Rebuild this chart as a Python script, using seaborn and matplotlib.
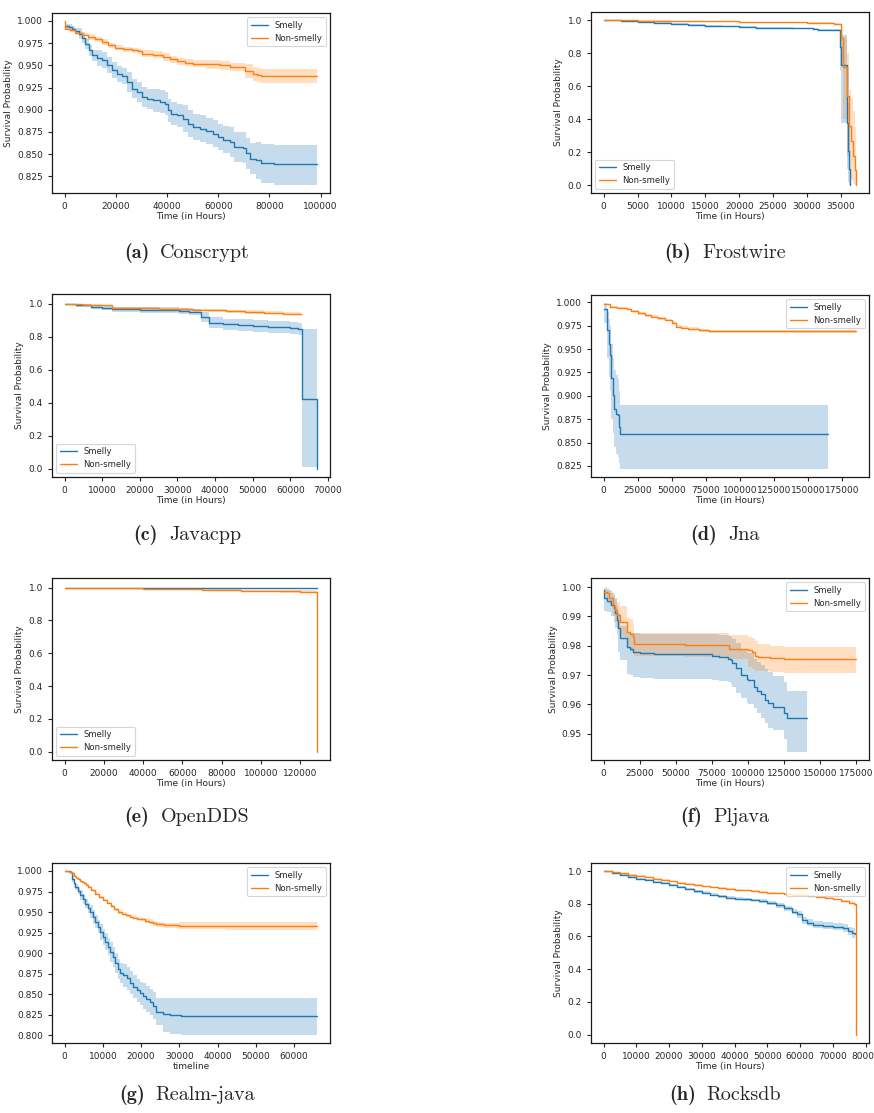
import numpy as np
import pandas as pd
import seaborn as sns
import matplotlib.pyplot as plt
from matplotlib.ticker import MultipleLocator
from matplotlib.offsetbox import TextArea, HPacker, AnchoredOffsetbox

# ---- (a) Conscrypt ----
a_sm_t = [0, 1550, 2850, 4150, 5440, 6740, 8030, 9330, 10600, 12600, 14500, 16500, 18400, 20300, 22300,
          24200, 26200, 28100, 30100, 32000, 34600, 37200, 39100, 40400, 41700, 43700, 46200, 48200, 50100,
          52700, 55300, 57900, 59800, 61800, 64400, 66300, 69600, 70900, 72200, 74700, 76700, 81900, 98700]
a_sm_s = [0.994, 0.9933, 0.9914, 0.9888, 0.9858, 0.9813, 0.9745, 0.967, 0.9614, 0.9588, 0.9558, 0.9501,
          0.9445, 0.9408, 0.9378, 0.9314, 0.9239, 0.9201, 0.9145, 0.9123, 0.9108, 0.9089, 0.907, 0.8995,
          0.8958, 0.8939, 0.8901, 0.8845, 0.8808, 0.8789, 0.8763, 0.8733, 0.8695, 0.8665, 0.8639, 0.8583,
          0.8575, 0.8508, 0.8451, 0.8433, 0.8406, 0.8395, 0.8395]
a_sm_lo = [0.991, 0.9903, 0.9884, 0.9858, 0.9798, 0.9753, 0.9685, 0.961, 0.9554, 0.9498, 0.9468, 0.9411,
           0.9355, 0.9318, 0.9288, 0.9204, 0.9129, 0.9091, 0.9035, 0.9013, 0.8978, 0.8959, 0.894, 0.8865,
           0.8828, 0.8809, 0.8751, 0.8695, 0.8658, 0.8639, 0.8613, 0.8583, 0.8545, 0.8515, 0.8469, 0.8413,
           0.8405, 0.8338, 0.8281, 0.822, 0.818, 0.815, 0.815]
a_sm_hi = [0.997, 0.9963, 0.9944, 0.9918, 0.9918, 0.9873, 0.9805, 0.973, 0.9674, 0.9678, 0.9648, 0.9591,
           0.9535, 0.9498, 0.9468, 0.9424, 0.9349, 0.9311, 0.9255, 0.9233, 0.9238, 0.9219, 0.92, 0.9125,
           0.9088, 0.9069, 0.9051, 0.8995, 0.8958, 0.8939, 0.8913, 0.8883, 0.8845, 0.8815, 0.8809, 0.8753,
           0.8745, 0.8678, 0.8621, 0.864, 0.861, 0.86, 0.86]
a_ns_t = [0, 200, 2200, 4100, 6700, 9300, 11900, 14500, 17100, 19700, 22900, 26200, 28800, 30100, 34600,
          38500, 41100, 43700, 46900, 50100, 55300, 60500, 64400, 70500, 73400, 75000, 76700, 98700]
a_ns_s = [1.0, 0.9914, 0.9895, 0.9869, 0.9846, 0.982, 0.9794, 0.9764, 0.9726, 0.970, 0.9681, 0.967, 0.9659,
          0.9632, 0.9621, 0.9595, 0.9569, 0.9546, 0.9531, 0.952, 0.9512, 0.9501, 0.9482, 0.9437, 0.9407,
          0.9389, 0.9381, 0.9381]
a_ns_lo = [1.0, 0.9894, 0.9875, 0.9849, 0.9826, 0.979, 0.9764, 0.9734, 0.9696, 0.967, 0.9651, 0.964, 0.9629,
           0.9592, 0.9581, 0.9555, 0.9529, 0.9506, 0.9491, 0.948, 0.9462, 0.9451, 0.9432, 0.9357, 0.9327,
           0.9309, 0.9301, 0.9301]
a_ns_hi = [1.0, 0.9934, 0.9915, 0.9889, 0.9866, 0.985, 0.9824, 0.9794, 0.9756, 0.973, 0.9711, 0.970, 0.9689,
           0.9672, 0.9661, 0.9635, 0.9609, 0.9586, 0.9571, 0.956, 0.9562, 0.9551, 0.9532, 0.9517, 0.9487,
           0.9469, 0.9461, 0.9461]

# ---- (b) Frostwire ----
b_sm_t = [0, 2500, 5000, 7500, 10000, 12500, 15000, 17500, 20000, 22500, 25000, 28000, 30900, 31600,
          34840, 35080, 35920, 36060, 36210, 36410]
b_sm_s = [1.0, 0.994, 0.988, 0.983, 0.978, 0.973, 0.968, 0.963, 0.959, 0.956, 0.953, 0.950, 0.947, 0.943,
          0.838, 0.73, 0.375, 0.21, 0.10, 0.0]
b_sm_lo = [1.0, 0.990, 0.983, 0.978, 0.973, 0.968, 0.963, 0.958, 0.953, 0.950, 0.947, 0.944, 0.941, 0.937,
           0.70, 0.38, 0.10, 0.02, 0.0, 0.0]
b_sm_hi = [1.0, 0.998, 0.992, 0.988, 0.983, 0.978, 0.973, 0.968, 0.965, 0.962, 0.959, 0.956, 0.953, 0.949,
           0.92, 0.91, 0.70, 0.50, 0.35, 0.0]
b_ns_t = [0, 5000, 10000, 15000, 20000, 25000, 30000, 34000, 34985, 35330, 35920, 36160, 36460, 36800,
          37140, 37290]
b_ns_s = [1.0, 0.997, 0.995, 0.993, 0.99, 0.988, 0.985, 0.98, 0.89, 0.714, 0.538, 0.36, 0.27, 0.18, 0.09, 0.0]
b_ns_lo = [1.0, 0.995, 0.993, 0.991, 0.988, 0.985, 0.982, 0.977, 0.75, 0.40, 0.17, 0.07, 0.03, 0.01, 0.0, 0.0]
b_ns_hi = [1.0, 0.999, 0.997, 0.995, 0.992, 0.991, 0.988, 0.983, 0.95, 0.90, 0.80, 0.58, 0.53, 0.45, 0.35, 0.0]

# ---- (c) Javacpp ----
c_sm_t = [0, 3000, 7000, 10000, 12500, 20000, 30500, 33000, 36200, 38500, 42000, 46000, 50000, 54000,
          60000, 62000, 63100, 67200]
c_sm_s = [1.0, 0.99, 0.98, 0.975, 0.966, 0.962, 0.957, 0.95, 0.921, 0.886, 0.876, 0.871, 0.866, 0.857,
          0.852, 0.846, 0.423, 0.0]
c_sm_lo = [1.0, 0.978, 0.966, 0.96, 0.95, 0.945, 0.94, 0.93, 0.89, 0.85, 0.84, 0.835, 0.83, 0.82, 0.815,
           0.81, 0.01, 0.0]
c_sm_hi = [1.0, 0.998, 0.992, 0.988, 0.98, 0.978, 0.972, 0.968, 0.95, 0.92, 0.91, 0.905, 0.9, 0.893, 0.888,
           0.882, 0.845, 0.0]
c_ns_t = [0, 5000, 10000, 12500, 20000, 25000, 30000, 34000, 38000, 43000, 48000, 53000, 58000, 62900]
c_ns_s = [1.0, 0.995, 0.99, 0.976, 0.972, 0.968, 0.965, 0.962, 0.96, 0.955, 0.95, 0.945, 0.94, 0.935]
c_ns_lo = [1.0, 0.991, 0.985, 0.97, 0.966, 0.962, 0.958, 0.955, 0.952, 0.946, 0.94, 0.935, 0.93, 0.925]
c_ns_hi = [1.0, 0.999, 0.995, 0.982, 0.978, 0.975, 0.972, 0.970, 0.968, 0.964, 0.96, 0.955, 0.95, 0.945]

# ---- (d) Jna ----
d_sm_t = [0, 2440, 3650, 4870, 5600, 6580, 7310, 9015, 10230, 10960, 12180, 164500]
d_sm_s = [0.9925, 0.9704, 0.955, 0.9436, 0.9186, 0.9007, 0.886, 0.881, 0.879, 0.867, 0.8596, 0.8596]
d_sm_lo = [0.9775, 0.94, 0.92, 0.905, 0.875, 0.86, 0.845, 0.838, 0.835, 0.828, 0.8214, 0.8214]
d_sm_hi = [0.9995, 0.99, 0.982, 0.975, 0.955, 0.94, 0.928, 0.922, 0.918, 0.905, 0.89, 0.89]
d_ns_t = [0, 5000, 10000, 17000, 20000, 25000, 30000, 35000, 40000, 45000, 50000, 53000, 57000, 62000,
          70000, 77000, 185200]
d_ns_s = [0.9979, 0.9954, 0.9936, 0.9925, 0.9911, 0.9882, 0.9861, 0.9846, 0.9829, 0.9811, 0.9782, 0.9739,
          0.9729, 0.9718, 0.9704, 0.9693, 0.9693]
d_ns_lo = [0.9969, 0.9944, 0.9926, 0.9914, 0.9899, 0.987, 0.9848, 0.9832, 0.9815, 0.9796, 0.9767, 0.9723,
           0.9713, 0.9702, 0.9688, 0.9677, 0.9677]
d_ns_hi = [0.9987, 0.9963, 0.9946, 0.9936, 0.9922, 0.9894, 0.9874, 0.986, 0.9843, 0.9826, 0.9797, 0.9754,
           0.9744, 0.9733, 0.972, 0.9709, 0.9709]

# ---- (e) OpenDDS ----
e_sm_t = [0, 30000, 60000, 90000, 128800]
e_sm_s = [1.0, 0.999, 0.998, 0.997, 0.996]
e_sm_lo = [1.0, 0.997, 0.995, 0.993, 0.992]
e_sm_hi = [1.0, 1.0, 1.0, 1.0, 1.0]
e_ns_t = [0, 10000, 20000, 30000, 40000, 50000, 60000, 70000, 80000, 90000, 100000, 110000, 120000, 128400]
e_ns_s = [1.0, 0.9985, 0.997, 0.9955, 0.994, 0.9915, 0.989, 0.9865, 0.984, 0.9815, 0.979, 0.977, 0.975, 0.0]
e_ns_lo = [1.0, 0.996, 0.994, 0.992, 0.990, 0.987, 0.984, 0.981, 0.978, 0.975, 0.972, 0.970, 0.967, 0.0]
e_ns_hi = [1.0, 1.0, 0.999, 0.998, 0.997, 0.995, 0.993, 0.991, 0.989, 0.987, 0.985, 0.984, 0.983, 0.0]

# ---- (f) Pljava ----
f_sm_t = [0, 500, 2300, 5300, 7000, 8000, 9500, 10000, 11000, 15900, 18000, 20000, 25000, 35000, 75000,
          80000, 86000, 88000, 89000, 92000, 95000, 99000, 100000, 104000, 106000, 109000, 112000, 114000,
          117000, 125000, 127000, 141000]
f_sm_s = [0.9991, 0.9962, 0.9951, 0.994, 0.993, 0.9911, 0.9888, 0.986, 0.9826, 0.9795, 0.979, 0.978,
          0.9775, 0.977, 0.9765, 0.9761, 0.9755, 0.975, 0.974, 0.9723, 0.970, 0.9686, 0.9683, 0.966, 0.9647,
          0.9636, 0.9615, 0.9604, 0.959, 0.957, 0.9552, 0.9552]
f_sm_lo = [0.9925, 0.992, 0.9915, 0.99, 0.988, 0.986, 0.984, 0.978, 0.975, 0.9705, 0.970, 0.9693, 0.969,
           0.9686, 0.9683, 0.968, 0.9675, 0.967, 0.966, 0.964, 0.962, 0.9605, 0.960, 0.9587, 0.957, 0.9555,
           0.9535, 0.952, 0.9513, 0.948, 0.9436, 0.9436]
f_sm_hi = [1.0, 0.9995, 0.999, 0.998, 0.9975, 0.996, 0.994, 0.991, 0.9866, 0.9845, 0.9845, 0.9845, 0.984,
           0.984, 0.984, 0.9838, 0.9832, 0.983, 0.9822, 0.981, 0.979, 0.978, 0.9775, 0.9755, 0.9745, 0.9735,
           0.972, 0.971, 0.9695, 0.9675, 0.9645, 0.9645]
f_ns_t = [0, 2000, 4000, 6500, 8000, 9500, 11000, 15900, 18000, 20000, 21000, 56000, 87000, 100000, 103000,
          105000, 107000, 115000, 125000, 175000]
f_ns_s = [0.9982, 0.998, 0.9962, 0.9934, 0.9923, 0.9905, 0.988, 0.9848, 0.984, 0.983, 0.9805, 0.9802,
          0.979, 0.9785, 0.9777, 0.9765, 0.9761, 0.9758, 0.9755, 0.9755]
f_ns_lo = [0.9965, 0.996, 0.994, 0.990, 0.988, 0.986, 0.983, 0.979, 0.978, 0.977, 0.9765, 0.9763, 0.9755,
           0.9729, 0.9722, 0.9715, 0.9712, 0.971, 0.9708, 0.9708]
f_ns_hi = [1.0, 0.9998, 0.9985, 0.997, 0.9963, 0.995, 0.9935, 0.9895, 0.989, 0.9875, 0.9845, 0.9842,
           0.9835, 0.983, 0.9825, 0.9815, 0.9805, 0.98, 0.9795, 0.9795]

# ---- (g) Realm-java ----
g_sm_t = [0, 1500, 1900, 2350, 2800, 3450, 4100, 4750, 5400, 6050, 6700, 7350, 8000, 8650, 9300, 9950,
          10600, 11250, 11900, 12550, 13200, 13850, 14500, 15350, 16200, 17100, 18000, 18850, 19700, 20550,
          21400, 22300, 23200, 24000, 25800, 27500, 30500, 66100]
g_sm_s = [1.0, 0.9985, 0.9907, 0.985, 0.9806, 0.9755, 0.9705, 0.9655, 0.9604, 0.9555, 0.9503, 0.944,
          0.9382, 0.932, 0.926, 0.920, 0.914, 0.908, 0.9019, 0.895, 0.8877, 0.881, 0.8756, 0.873, 0.8695,
          0.864, 0.8594, 0.855, 0.8513, 0.848, 0.844, 0.841, 0.8364, 0.8291, 0.8263, 0.825, 0.8237, 0.8237]
g_sm_lo = [1.0, 0.9965, 0.9867, 0.981, 0.9766, 0.9715, 0.9645, 0.9595, 0.9544, 0.9495, 0.9423, 0.936,
           0.9302, 0.924, 0.916, 0.910, 0.904, 0.898, 0.8899, 0.883, 0.8757, 0.869, 0.8636, 0.859, 0.8555,
           0.850, 0.8454, 0.841, 0.8373, 0.832, 0.828, 0.825, 0.8204, 0.8131, 0.804, 0.802, 0.801, 0.801]
g_sm_hi = [1.0, 1.0, 0.9947, 0.989, 0.9846, 0.9795, 0.9765, 0.9715, 0.9664, 0.9615, 0.9583, 0.952, 0.9462,
           0.940, 0.936, 0.930, 0.924, 0.918, 0.9139, 0.907, 0.8997, 0.893, 0.8876, 0.887, 0.8835, 0.878,
           0.8734, 0.869, 0.8653, 0.864, 0.860, 0.857, 0.8524, 0.8451, 0.8455, 0.8455, 0.8455, 0.8455]
g_ns_t = [0, 1200, 2000, 2500, 3000, 3500, 4000, 4500, 5000, 5500, 6000, 7000, 8000, 9000, 10000, 11000,
          12000, 13000, 14000, 15000, 16000, 17000, 18000, 19000, 20000, 21000, 22000, 23000, 24000, 26000,
          30000, 42000, 66100]
g_ns_s = [1.0, 0.999, 0.997, 0.994, 0.992, 0.990, 0.988, 0.9865, 0.985, 0.983, 0.981, 0.977, 0.9725, 0.968,
          0.9645, 0.961, 0.957, 0.9535, 0.950, 0.948, 0.946, 0.9445, 0.943, 0.942, 0.941, 0.9395, 0.938,
          0.9365, 0.935, 0.9342, 0.9334, 0.933, 0.933]
g_ns_lo = [1.0, 0.998, 0.996, 0.993, 0.991, 0.989, 0.987, 0.9855, 0.984, 0.982, 0.980, 0.9755, 0.971,
           0.9665, 0.963, 0.9595, 0.9555, 0.9515, 0.948, 0.946, 0.944, 0.9425, 0.941, 0.940, 0.939, 0.9365,
           0.935, 0.9335, 0.932, 0.9312, 0.9289, 0.9285, 0.9285]
g_ns_hi = [1.0, 1.0, 0.998, 0.995, 0.993, 0.991, 0.989, 0.9875, 0.986, 0.984, 0.982, 0.9785, 0.974, 0.9695,
           0.966, 0.9625, 0.9585, 0.9555, 0.952, 0.950, 0.948, 0.9465, 0.945, 0.944, 0.943, 0.9425, 0.941,
           0.9395, 0.938, 0.9372, 0.9379, 0.9375, 0.9375]

# ---- (h) Rocksdb ----
h_sm_t = [0, 2500, 5000, 7500, 10000, 12500, 15000, 17500, 20000, 22500, 25000, 27500, 30000, 32500,
          35000, 37500, 40000, 42500, 45000, 47500, 50000, 52500, 55000, 57500, 59000, 60500, 62000, 64000,
          67000, 70000, 73000, 74500, 76000, 76700]
h_sm_s = [1.0, 0.988, 0.976, 0.964, 0.953, 0.944, 0.935, 0.924, 0.913, 0.901, 0.889, 0.877, 0.866, 0.855,
          0.845, 0.838, 0.832, 0.827, 0.823, 0.817, 0.805, 0.790, 0.771, 0.752, 0.735, 0.700, 0.683, 0.672,
          0.666, 0.659, 0.652, 0.635, 0.622, 0.615]
h_sm_lo = [1.0, 0.982, 0.970, 0.958, 0.947, 0.938, 0.929, 0.918, 0.907, 0.895, 0.883, 0.868, 0.857, 0.846,
           0.836, 0.829, 0.823, 0.818, 0.814, 0.804, 0.792, 0.777, 0.758, 0.739, 0.713, 0.678, 0.661, 0.650,
           0.644, 0.637, 0.628, 0.607, 0.590, 0.565]
h_sm_hi = [1.0, 0.994, 0.982, 0.970, 0.959, 0.950, 0.941, 0.930, 0.919, 0.907, 0.895, 0.886, 0.875, 0.864,
           0.854, 0.847, 0.841, 0.836, 0.832, 0.830, 0.818, 0.803, 0.784, 0.765, 0.757, 0.722, 0.705, 0.694,
           0.688, 0.681, 0.674, 0.657, 0.650, 0.660]
h_ns_t = [0, 2500, 5000, 7500, 10000, 12500, 15000, 17500, 20000, 22500, 25000, 27500, 30000, 32500,
          35000, 37500, 40000, 42500, 45000, 47500, 50000, 52500, 55000, 57500, 60000, 62500, 65000, 67500,
          70000, 72500, 75000, 76500, 77200]
h_ns_s = [1.0, 0.993, 0.985, 0.977, 0.970, 0.961, 0.953, 0.945, 0.937, 0.929, 0.921, 0.914, 0.907, 0.901,
          0.896, 0.891, 0.886, 0.881, 0.877, 0.872, 0.868, 0.864, 0.860, 0.856, 0.852, 0.847, 0.841, 0.834,
          0.826, 0.817, 0.806, 0.797, 0.0]
h_ns_lo = [1.0, 0.990, 0.981, 0.973, 0.966, 0.957, 0.949, 0.941, 0.933, 0.925, 0.917, 0.910, 0.903, 0.897,
           0.892, 0.887, 0.882, 0.877, 0.873, 0.868, 0.864, 0.860, 0.856, 0.851, 0.847, 0.842, 0.835, 0.828,
           0.820, 0.810, 0.798, 0.785, 0.0]
h_ns_hi = [1.0, 0.996, 0.989, 0.981, 0.974, 0.965, 0.957, 0.949, 0.941, 0.933, 0.925, 0.918, 0.911, 0.905,
           0.900, 0.895, 0.890, 0.885, 0.881, 0.876, 0.872, 0.868, 0.864, 0.861, 0.857, 0.852, 0.847, 0.840,
           0.832, 0.824, 0.814, 0.809, 0.0]

sns.set_theme(style="ticks", context="paper")

BLUE, ORANGE = "#1f77b4", "#ff7f0e"
W, H = 874, 1113
FS = 6.5

fig = plt.figure(figsize=(W / 100, H / 100), dpi=100)


def px_axes(x0, y0, x1, y1):
    return fig.add_axes([x0 / W, 1 - y1 / H, (x1 - x0) / W, (y1 - y0) / H])


def km(ax, t, s, lo, hi, color, label):
    # confidence band then step line, like lifelines does
    ax.fill_between(t, lo, hi, step="post", color=color, alpha=0.25, linewidth=0)
    df = pd.DataFrame({"t": t, "s": s})
    sns.lineplot(data=df, x="t", y="s", ax=ax, color=color, label=label,
                 drawstyle="steps-post", linewidth=1.0, errorbar=None, sort=False)


def caption(letter, name, cx, cy):
    box = HPacker(children=[TextArea(f"({letter})", textprops=dict(family="cmb10", size=14.5)),
                            TextArea(name, textprops=dict(family="cmr10", size=14.5))],
                  sep=8, pad=0, align="baseline")
    fig.add_artist(AnchoredOffsetbox(loc="center", child=box, pad=0, borderpad=0, frameon=False,
                                     bbox_to_anchor=(cx / W, 1 - cy / H),
                                     bbox_transform=fig.transFigure))


def panel(rect, sm, ns, loc, xstep, ystep, ylim, xlabel="Time (in Hours)", ylabel="Survival Probability"):
    ax = px_axes(*rect)
    km(ax, *sm, BLUE, "Smelly")
    km(ax, *ns, ORANGE, "Non-smelly")
    ax.set_ylim(*ylim)
    ax.xaxis.set_major_locator(MultipleLocator(xstep))
    ax.yaxis.set_major_locator(MultipleLocator(ystep))
    ax.tick_params(labelsize=FS, length=3, width=0.8, colors="0.15")
    ax.set_xlabel(xlabel, fontsize=FS, labelpad=1)
    ax.set_ylabel(ylabel, fontsize=FS, labelpad=3)
    for sp in ax.spines.values():
        sp.set_linewidth(0.9)
        sp.set_color("0.1")
    ax.legend(loc=loc, fontsize=6.1, frameon=True, framealpha=0.8, edgecolor="0.8", fancybox=True)
    return ax


L, R = (52, 330), (591, 869)

panel((L[0], 13, L[1], 193), (a_sm_t, a_sm_s, a_sm_lo, a_sm_hi), (a_ns_t, a_ns_s, a_ns_lo, a_ns_hi),
      "upper right", 20000, 0.025, (0.8063, 1.009))
panel((R[0], 12, R[1], 193), (b_sm_t, b_sm_s, b_sm_lo, b_sm_hi), (b_ns_t, b_ns_s, b_ns_lo, b_ns_hi),
      "lower left", 5000, 0.2, (-0.047, 1.05))
panel((L[0], 294, L[1], 477), (c_sm_t, c_sm_s, c_sm_lo, c_sm_hi), (c_ns_t, c_ns_s, c_ns_lo, c_ns_hi),
      "lower left", 10000, 0.2, (-0.051, 1.059))
panel((R[0], 295, R[1], 477), (d_sm_t, d_sm_s, d_sm_lo, d_sm_hi), (d_ns_t, d_ns_s, d_ns_lo, d_ns_hi),
      "upper right", 25000, 0.025, (0.8132, 1.0079))
panel((L[0], 578, L[1], 760), (e_sm_t, e_sm_s, e_sm_lo, e_sm_hi), (e_ns_t, e_ns_s, e_ns_lo, e_ns_hi),
      "lower left", 20000, 0.2, (-0.051, 1.059))
panel((R[0], 578, R[1], 760), (f_sm_t, f_sm_s, f_sm_lo, f_sm_hi), (f_ns_t, f_ns_s, f_ns_lo, f_ns_hi),
      "upper right", 25000, 0.01, (0.941, 1.0031))
panel((L[0], 863, L[1], 1043), (g_sm_t, g_sm_s, g_sm_lo, g_sm_hi), (g_ns_t, g_ns_s, g_ns_lo, g_ns_hi),
      "upper right", 10000, 0.025, (0.7908, 1.0097), xlabel="timeline", ylabel="")
panel((R[0], 863, R[1], 1043), (h_sm_t, h_sm_s, h_sm_lo, h_sm_hi), (h_ns_t, h_ns_s, h_ns_lo, h_ns_hi),
      "upper right", 10000, 0.2, (-0.051, 1.049))

caption("a", "Conscrypt", 187, 253)
caption("b", "Frostwire", 725, 253)
caption("c", "Javacpp", 187, 535)
caption("d", "Jna", 725, 535)
caption("e", "OpenDDS", 187, 817)
caption("f", "Pljava", 725, 817)
caption("g", "Realm-java", 187, 1095)
caption("h", "Rocksdb", 725, 1095)

fig.savefig("out.png", dpi=100, facecolor="white")
